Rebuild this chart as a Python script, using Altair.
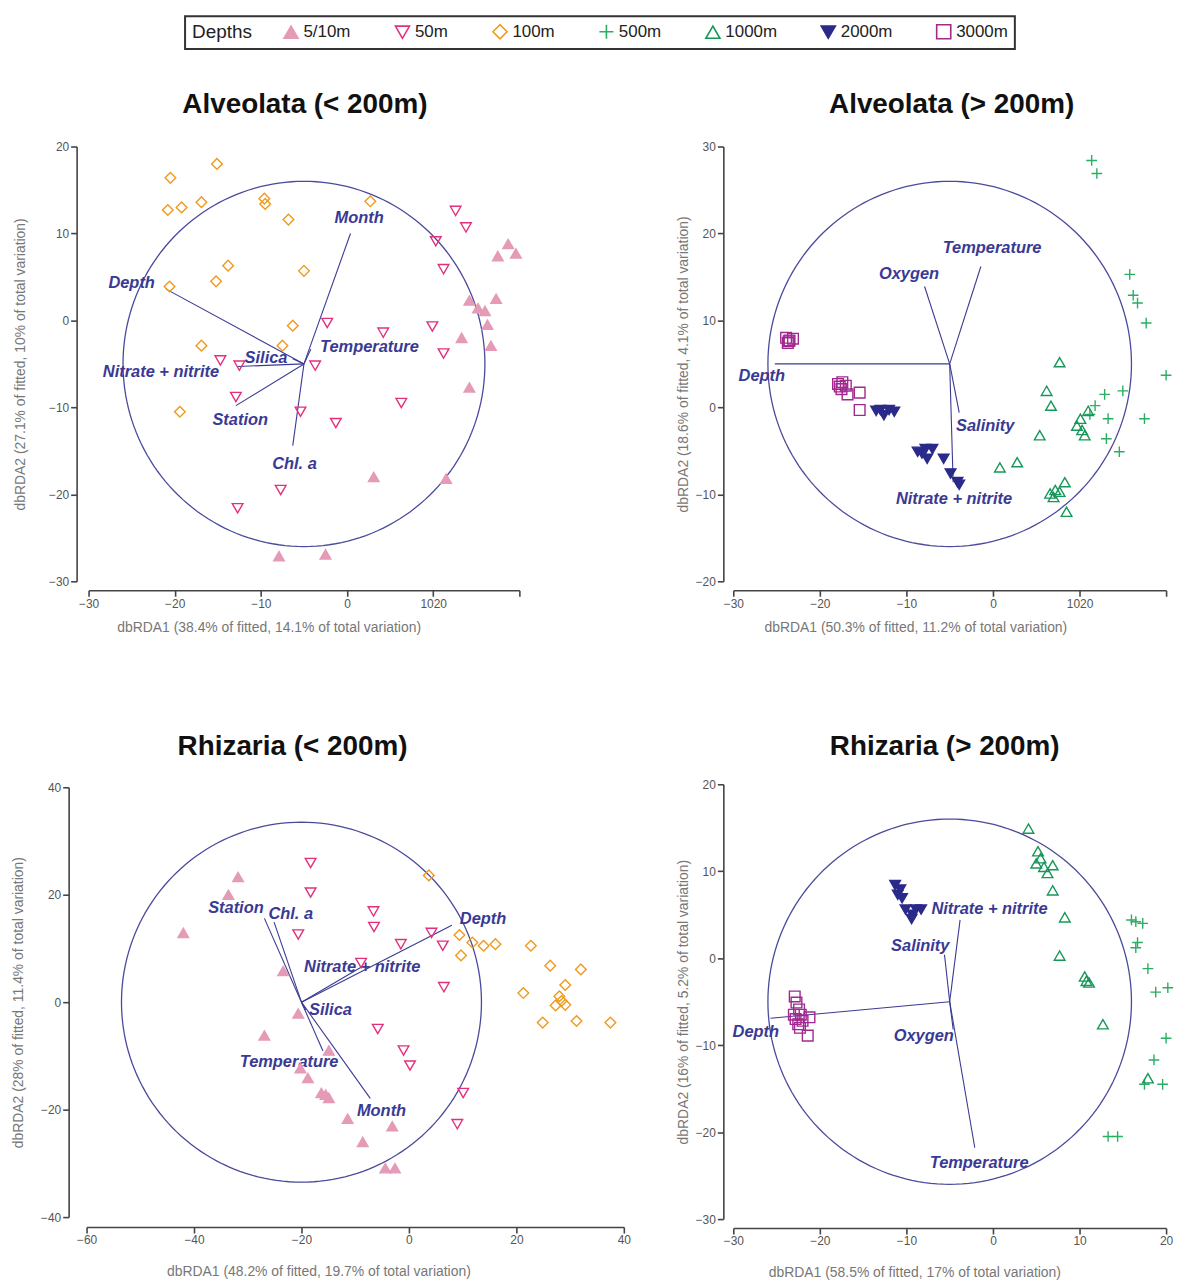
import altair as alt
import pandas as pd

# ---------------- legend / styling categories ----------------
DEPTHS = ["5/10m", "50m", "100m", "500m", "1000m", "2000m", "3000m"]
STROKES = ["#E59AB6", "#E2307C", "#EF9A1E", "#29AE62", "#16975A", "#2A2A8A", "#A0288F"]
FILLS = ["#E59AB6", "transparent", "transparent", "transparent", "transparent", "#2A2A8A", "transparent"]
SHAPES = ["triangle-up", "triangle-down", "diamond", "M-1,0L1,0M0,-1L0,1",
          "triangle-up", "triangle-down", "square"]

# ---------------- Panel 1: Alveolata (< 200m) ----------------
p1_d5_x = [18.7, 17.5, 19.6, 17.3, 14.2, 15.2, 16.0, 16.3, 16.7, 13.3, 14.2, 11.5, 3.1, -7.9, -2.5]
p1_d5_y = [8.8, 7.4, 7.7, 2.5, 2.3, 1.4, 1.1, -0.5, -2.9, -2.0, -7.7, -18.2, -18.0, -27.1, -26.9]
p1_d50_x = [12.6, 13.8, 10.3, 11.2, -2.3, 4.2, 9.9, 11.2, -3.7, -14.7, -12.5, -12.9, -5.4, -1.3, 6.3, -7.7, -12.7]
p1_d50_y = [12.6, 10.7, 9.1, 5.9, -0.3, -1.4, -0.7, -3.8, -5.2, -4.6, -5.2, -8.8, -10.5, -11.8, -9.5, -19.5, -21.6]
p1_d100_x = [-20.5, -15.1, -20.8, -19.2, -16.9, -9.6, -9.5, -6.8, 2.7, -13.8, -15.2, -5.0, -20.6, -6.3, -16.9, -7.5, -19.4]
p1_d100_y = [16.4, 18.0, 12.7, 13.0, 13.6, 14.0, 13.4, 11.6, 13.7, 6.3, 4.5, 5.7, 3.9, -0.6, -2.9, -2.9, -10.5]
p1_vec_names = ["Month", "Depth", "Temperature", "Silica", "Nitrate + nitrite", "Station", "Chl. a"]
p1_vec_x = [0.4, -21.0, -4.2, -6.3, -12.7, -12.9, -6.3]
p1_vec_y = [10.0, 3.6, -3.3, -4.4, -5.3, -9.8, -14.4]
p1_lab_x = [1.4, -25.0, 2.6, -9.4, -21.6, -12.4, -6.1]
p1_lab_y = [11.8, 4.3, -3.1, -4.3, -5.9, -11.4, -16.5]
p1_center = [-5.0, -5.0]
p1_radius = 21.0

# ---------------- Panel 2: Alveolata (> 200m) ----------------
p2_d500_x = [11.4, 12.0, 15.8, 16.2, 16.7, 17.7, 20.0, 15.0, 12.9, 11.8, 11.2, 13.3, 17.5, 13.1, 14.6]
p2_d500_y = [28.4, 26.9, 15.3, 12.9, 12.0, 9.7, 3.7, 1.9, 1.5, 0.2, -0.8, -1.3, -1.3, -3.6, -5.1]
p2_d1000_x = [7.7, 6.2, 6.7, 5.4, 9.7, 10.6, 11.0, 10.1, 2.8, 0.8, 6.6, 7.2, 7.7, 8.3, 7.0, 8.5, 10.3]
p2_d1000_y = [5.2, 1.9, 0.2, -3.2, -2.1, -3.2, -0.4, -1.3, -6.3, -6.9, -9.9, -9.5, -9.7, -8.6, -10.3, -12.0, -2.6]
p2_d2000_x = [-13.5, -13.0, -12.6, -11.4, -12.0, -8.7, -8.2, -7.6, -7.0, -7.8, -5.7, -4.9, -4.1, -3.9]
p2_d2000_y = [-0.4, -0.3, -0.9, -0.5, -0.3, -5.1, -5.3, -5.9, -4.8, -4.8, -5.9, -7.6, -8.6, -8.9]
p2_d3000_x = [-23.9, -23.5, -23.7, -23.1, -23.6, -17.9, -17.4, -17.0, -17.5, -16.8, -15.4, -15.4, -17.7]
p2_d3000_y = [8.0, 7.7, 7.4, 7.9, 7.6, 2.7, 2.9, 2.5, 2.1, 1.5, 1.7, -0.3, 2.4]
p2_vec_names = ["Depth", "Oxygen", "Temperature", "Salinity", "Nitrate + nitrite"]
p2_vec_x = [-25.2, -7.9, -1.4, -3.9, -4.6]
p2_vec_y = [5.0, 13.9, 16.2, -0.6, -8.6]
p2_lab_x = [-26.7, -9.7, -0.1, -0.9, -4.5]
p2_lab_y = [3.6, 15.3, 18.3, -2.1, -10.5]
p2_center = [-5.0, 5.0]
p2_radius = 21.0

# ---------------- Panel 3: Rhizaria (< 200m) ----------------
p3_d5_x = [-31.8, -33.6, -42.0, -23.4, -20.6, -26.9, -20.2, -18.8, -16.3, -14.9, -15.5, -11.4, -3.1, -8.6, -4.4, -2.6, -14.9]
p3_d5_y = [23.3, 20.0, 12.9, 5.8, -2.1, -6.2, -12.3, -14.1, -16.9, -17.8, -17.2, -21.7, -23.1, -26.0, -30.9, -30.9, -9.0]
p3_d50_x = [-18.3, -18.3, -20.6, -6.6, -6.5, -1.5, 4.2, 6.3, -8.9, 6.5, -5.8, -1.0, 0.2, 10.1, 9.0]
p3_d50_y = [25.9, 20.4, 12.6, 16.9, 14.0, 10.8, 12.9, 10.5, 7.3, 2.8, -5.0, -9.0, -11.8, -16.9, -22.7]
p3_d100_x = [3.7, 9.4, 11.8, 13.9, 16.1, 9.7, 22.7, 26.3, 32.0, 21.3, 29.1, 28.0, 28.4, 27.3, 29.1, 24.9, 31.2, 37.5]
p3_d100_y = [23.6, 12.5, 11.1, 10.5, 10.8, 8.7, 10.5, 6.8, 6.1, 1.7, 3.2, 1.1, 0.2, -0.6, -0.5, -3.8, -3.5, -3.8]
p3_vec_names = ["Station", "Chl. a", "Nitrate + nitrite", "Depth", "Silica", "Temperature", "Month"]
p3_vec_x = [-26.9, -25.1, -8.6, 8.0, -19.2, -16.0, -7.2]
p3_vec_y = [15.6, 14.9, 6.7, 14.3, -1.4, -9.1, -17.9]
p3_lab_x = [-32.2, -22.0, -8.7, 13.8, -14.6, -22.3, -5.1]
p3_lab_y = [17.6, 16.4, 6.5, 15.5, -1.5, -11.1, -20.2]
p3_center = [-20.0, 0.0]
p3_radius = 33.5

# ---------------- Panel 4: Rhizaria (> 200m) ----------------
p4_d500_x = [16.0, 16.5, 17.3, 16.7, 16.5, 17.9, 18.8, 20.2, 20.0, 18.6, 17.5, 19.6, 13.3, 14.4]
p4_d500_y = [4.4, 4.2, 4.0, 1.8, 1.2, -1.2, -3.9, -3.4, -9.2, -11.7, -14.5, -14.5, -20.5, -20.5]
p4_d1000_x = [4.1, 5.2, 5.5, 5.0, 5.9, 6.3, 6.9, 6.9, 8.3, 7.7, 10.6, 10.8, 11.1, 12.7, 17.9]
p4_d1000_y = [14.9, 12.3, 11.5, 10.9, 10.5, 9.8, 10.7, 7.8, 4.7, 0.3, -2.1, -2.6, -2.8, -7.6, -13.8]
p4_d2000_x = [-11.3, -10.7, -11.0, -10.5, -10.1, -9.3, -9.4, -8.3, -8.9]
p4_d2000_y = [8.4, 7.9, 7.3, 6.9, 5.6, 5.0, 4.5, 5.6, 5.6]
p4_d3000_x = [-22.9, -22.7, -22.4, -22.2, -22.8, -22.0, -21.2, -22.3, -21.4, -23.0, -22.5]
p4_d3000_y = [-4.4, -5.1, -5.9, -6.5, -7.0, -7.2, -6.8, -8.0, -8.9, -6.5, -7.6]
p4_vec_names = ["Depth", "Nitrate + nitrite", "Salinity", "Oxygen", "Temperature"]
p4_vec_x = [-25.7, -3.8, -5.6, -4.6, -2.1]
p4_vec_y = [-6.9, 4.4, 0.4, -8.2, -21.8]
p4_lab_x = [-27.4, -0.4, -8.4, -8.0, -1.6]
p4_lab_y = [-8.5, 5.6, 1.4, -8.9, -23.5]
p4_center = [-5.0, -5.0]
p4_radius = 21.0

FONT = "Liberation Sans"
VEC_COLOR = "#3a3a94"


def points_frame(groups):
    rows = []
    for depth, xs, ys in groups:
        for a, b in zip(xs, ys):
            rows.append({"x": a, "y": b, "depth": depth})
    return pd.DataFrame(rows)


def vec_frame(names, ex, ey, lx, ly, center):
    return pd.DataFrame({"name": names, "x": [center[0]] * len(names), "y": [center[1]] * len(names),
                         "x2": ex, "y2": ey, "lx": lx, "ly": ly})


def panel(title, title_dx, title_off, pts, vecs, center, radius, xdom, ydom, xvals, yvals,
          width, height, xrange_, yrange_, xtitle, ytitle, xoff, yoff, xtx, xty, ytx, label_expr):
    xscale = alt.Scale(domain=xdom, nice=False, zero=False,
                       **({"range": xrange_} if xrange_ else {}))
    yscale = alt.Scale(domain=ydom, nice=False, zero=False,
                       **({"range": yrange_} if yrange_ else {}))
    xaxis_kw = dict(values=xvals, title=xtitle, offset=xoff, titleX=xtx, titleY=xty,
                    titleBaseline="middle", titleAnchor="start", titleAlign="center",
                    labelFlush=False, labelOverlap=False)
    if label_expr:
        xaxis_kw["labelExpr"] = label_expr
    xaxis = alt.Axis(**xaxis_kw)
    yaxis = alt.Axis(values=yvals, title=ytitle, offset=yoff, titleX=ytx,
                     titleBaseline="middle", labelFlush=False, labelOverlap=False)

    X = lambda f: alt.X(f"{f}:Q", scale=xscale, axis=xaxis)
    Y = lambda f: alt.Y(f"{f}:Q", scale=yscale, axis=yaxis)

    circle = alt.Chart(alt.sequence(0, 362, 2, as_="t")).transform_calculate(
        x=f"{center[0]} + {radius} * cos(datum.t * PI / 180)",
        y=f"{center[1]} + {radius} * sin(datum.t * PI / 180)",
    ).mark_line(color="#4a4a9c", strokeWidth=1.3).encode(x=X("x"), y=Y("y"), order="t:Q")

    rules = alt.Chart(vecs).mark_rule(color=VEC_COLOR, strokeWidth=1.1).encode(
        x=X("x"), y=Y("y"), x2="x2:Q", y2="y2:Q")

    labels = alt.Chart(vecs).mark_text(font=FONT, fontStyle="italic", fontWeight="bold",
                                       fontSize=16.5, color=VEC_COLOR).encode(
        x=alt.X("lx:Q", scale=xscale, axis=xaxis), y=alt.Y("ly:Q", scale=yscale, axis=yaxis),
        text="name:N")

    legend = alt.Legend(title="Depths")
    points = alt.Chart(pts).mark_point(size=115, strokeWidth=1.4, opacity=1).encode(
        x=X("x"), y=Y("y"),
        shape=alt.Shape("depth:N", scale=alt.Scale(domain=DEPTHS, range=SHAPES), legend=legend),
        stroke=alt.Stroke("depth:N", scale=alt.Scale(domain=DEPTHS, range=STROKES), legend=legend),
        fill=alt.Fill("depth:N", scale=alt.Scale(domain=DEPTHS, range=FILLS), legend=legend),
    )

    return alt.layer(circle, rules, labels, points).properties(
        width=width, height=height,
        title=alt.TitleParams(title, font=FONT, fontSize=28, fontWeight="bold", color="#111",
                              anchor="middle", frame="group", dx=title_dx, offset=title_off,
                              baseline="middle"),
    )


p1 = panel("Alveolata (< 200m)", 2, 8,
           points_frame([("5/10m", p1_d5_x, p1_d5_y), ("50m", p1_d50_x, p1_d50_y),
                         ("100m", p1_d100_x, p1_d100_y)]),
           vec_frame(p1_vec_names, p1_vec_x, p1_vec_y, p1_lab_x, p1_lab_y, p1_center),
           p1_center, p1_radius, [-30, 20], [-30, 20],
           [-30, -20, -10, 0, 10, 20], [-30, -20, -10, 0, 10, 20],
           435, 437, [2, 435], None,
           "dbRDA1 (38.4% of fitted, 14.1% of total variation)",
           "dbRDA2 (27.1% of fitted, 10% of total variation)",
           9, 10, 183, 37, -56,
           "datum.value == 10 ? '1020' : (datum.value == 20 ? '' : datum.label)")

p2 = panel("Alveolata (> 200m)", 2, 8,
           points_frame([("500m", p2_d500_x, p2_d500_y), ("1000m", p2_d1000_x, p2_d1000_y),
                         ("2000m", p2_d2000_x, p2_d2000_y), ("3000m", p2_d3000_x, p2_d3000_y)]),
           vec_frame(p2_vec_names, p2_vec_x, p2_vec_y, p2_lab_x, p2_lab_y, p2_center),
           p2_center, p2_radius, [-30, 20], [-20, 30],
           [-30, -20, -10, 0, 10, 20], [-20, -10, 0, 10, 20, 30],
           435, 437, None, None,
           "dbRDA1 (50.3% of fitted, 11.2% of total variation)",
           "dbRDA2 (18.6% of fitted, 4.1% of total variation)",
           9, 10, 183, 37, -40,
           "datum.value == 10 ? '1020' : (datum.value == 20 ? '' : datum.label)")

p3 = panel("Rhizaria (< 200m)", -63, 6,
           points_frame([("5/10m", p3_d5_x, p3_d5_y), ("50m", p3_d50_x, p3_d50_y),
                         ("100m", p3_d100_x, p3_d100_y)]),
           vec_frame(p3_vec_names, p3_vec_x, p3_vec_y, p3_lab_x, p3_lab_y, p3_center),
           p3_center, p3_radius, [-60, 40], [-40, 40],
           [-60, -40, -20, 0, 20, 40], [-40, -20, 0, 20, 40],
           540, 437, None, [435, 3],
           "dbRDA1 (48.2% of fitted, 19.7% of total variation)",
           "dbRDA2 (28% of fitted, 11.4% of total variation)",
           8, 18, 233, 45, -50, None)

p4 = panel("Rhizaria (> 200m)", -5, 3,
           points_frame([("500m", p4_d500_x, p4_d500_y), ("1000m", p4_d1000_x, p4_d1000_y),
                         ("2000m", p4_d2000_x, p4_d2000_y), ("3000m", p4_d3000_x, p4_d3000_y)]),
           vec_frame(p4_vec_names, p4_vec_x, p4_vec_y, p4_lab_x, p4_lab_y, p4_center),
           p4_center, p4_radius, [-30, 20], [-30, 20],
           [-30, -20, -10, 0, 10, 20], [-30, -20, -10, 0, 10, 20],
           435, 437, None, None,
           "dbRDA1 (58.5% of fitted, 17% of total variation)",
           "dbRDA2 (16% of fitted, 5.2% of total variation)",
           9, 10, 182, 45, -40, None)

chart = alt.concat(
    p1, p2, p3, p4, columns=2, spacing={"row": 204, "column": 110}, bounds="flush"
).resolve_scale(
    shape="shared", stroke="shared", fill="shared"
).properties(
    padding={"left": 12, "top": 12, "right": 8, "bottom": 4},
    background="white",
).configure_view(stroke=None).configure_axis(
    grid=False, domainColor="#444", domainWidth=1.6, tickColor="#444", tickWidth=1.6,
    tickSize=6, labelColor="#555", labelFont=FONT, labelFontSize=12, labelPadding=2,
    titleColor="#777", titleFont=FONT, titleFontSize=14, titleFontWeight="normal",
).configure_legend(
    orient="none", legendX=99, legendY=-131, direction="horizontal",
    titleOrient="left", titleFont=FONT, titleFontSize=19, titleFontWeight="normal",
    titleColor="#222", titlePadding=30, labelFont=FONT, labelFontSize=17, labelColor="#222",
    symbolSize=200, symbolStrokeWidth=1.6, strokeColor="#333", strokeWidth=2,
    padding=7, columnPadding=41, labelOffset=4,
)

chart.save("out.html", embed_options={"renderer": "svg", "actions": False})
